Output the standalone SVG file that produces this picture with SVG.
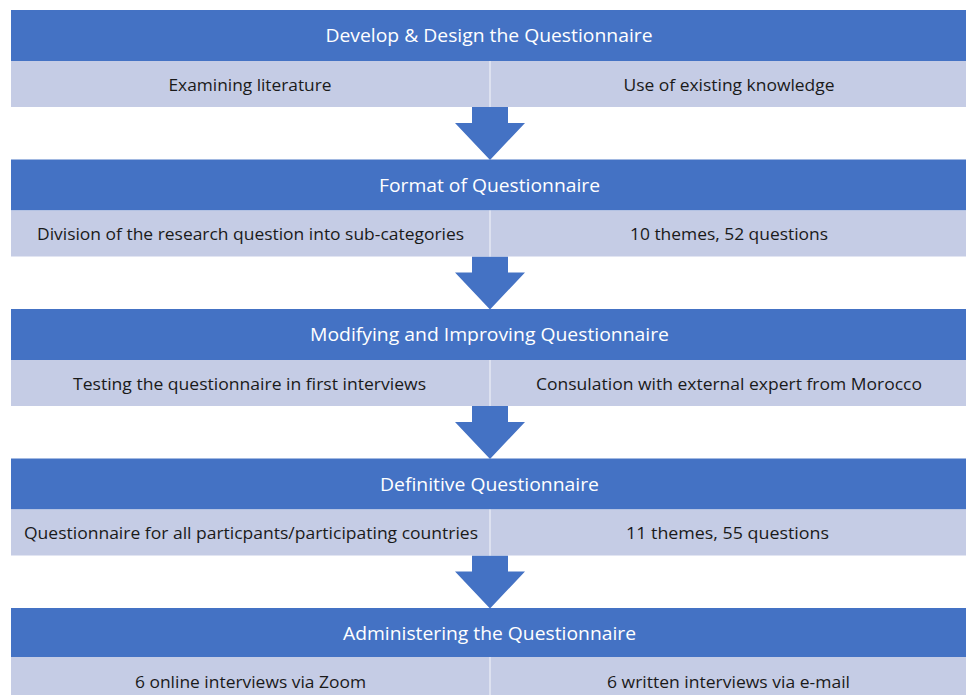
<svg xmlns="http://www.w3.org/2000/svg" width="966" height="695" viewBox="0 0 966 695">
  <style>
    .head { fill: #4472C4; }
    .cell { fill: #C5CCE5; }
    .sep { stroke: #E4E8F3; stroke-width: 1.5; }
    .arrow { fill: #4472C4; }
    .ht { font-family: "Open Sans", "Noto Sans", sans-serif; font-size: 19px; fill: #FFFFFF; text-anchor: middle; }
    .ct { font-family: "Open Sans", "Noto Sans", sans-serif; font-size: 17px; fill: #1A1A1A; text-anchor: middle; }
  </style>
  <rect width="966" height="695" fill="#FFFFFF"/>

  <!-- block arrows between stages -->
  <g id="connectors">
    <polygon class="arrow" points="472,107 508,107 508,123 525,123 490,160 455,123 472,123"/>
    <polygon class="arrow" points="472,256.5 508,256.5 508,272.5 525,272.5 490,309.5 455,272.5 472,272.5"/>
    <polygon class="arrow" points="472,406 508,406 508,422 525,422 490,459 455,422 472,422"/>
    <polygon class="arrow" points="472,555.5 508,555.5 508,571.5 525,571.5 490,608.5 455,571.5 472,571.5"/>
  </g>

  <g id="stage1" transform="translate(0,10)">
    <rect class="head" x="11" y="0" width="960" height="51"/>
    <rect class="cell" x="11" y="51" width="960" height="46"/>
    <line class="sep" x1="490" y1="51" x2="490" y2="97"/>
    <text class="ht" x="489" y="32" textLength="327" lengthAdjust="spacingAndGlyphs">Develop &amp; Design the Questionnaire</text>
    <text class="ct" x="250" y="80.5" textLength="163" lengthAdjust="spacingAndGlyphs">Examining literature</text>
    <text class="ct" x="729" y="80.5" textLength="211" lengthAdjust="spacingAndGlyphs">Use of existing knowledge</text>
  </g>

  <g id="stage2" transform="translate(0,159.5)">
    <rect class="head" x="11" y="0" width="960" height="51"/>
    <rect class="cell" x="11" y="51" width="960" height="46"/>
    <line class="sep" x1="490" y1="51" x2="490" y2="97"/>
    <text class="ht" x="489.5" y="32" textLength="221" lengthAdjust="spacingAndGlyphs">Format of Questionnaire</text>
    <text class="ct" x="250.5" y="80.5" textLength="427" lengthAdjust="spacingAndGlyphs">Division of the research question into sub-categories</text>
    <text class="ct" x="729" y="80.5" textLength="198" lengthAdjust="spacingAndGlyphs">10 themes, 52 questions</text>
  </g>

  <g id="stage3" transform="translate(0,309)">
    <rect class="head" x="11" y="0" width="960" height="51"/>
    <rect class="cell" x="11" y="51" width="960" height="46"/>
    <line class="sep" x1="490" y1="51" x2="490" y2="97"/>
    <text class="ht" x="489.5" y="32" textLength="359" lengthAdjust="spacingAndGlyphs">Modifying and Improving Questionnaire</text>
    <text class="ct" x="249.5" y="80.5" textLength="353" lengthAdjust="spacingAndGlyphs">Testing the questionnaire in first interviews</text>
    <text class="ct" x="729" y="80.5" textLength="386" lengthAdjust="spacingAndGlyphs">Consulation with external expert from Morocco</text>
  </g>

  <g id="stage4" transform="translate(0,458.5)">
    <rect class="head" x="11" y="0" width="960" height="51"/>
    <rect class="cell" x="11" y="51" width="960" height="46"/>
    <line class="sep" x1="490" y1="51" x2="490" y2="97"/>
    <text class="ht" x="489.5" y="32" textLength="219" lengthAdjust="spacingAndGlyphs">Definitive Questionnaire</text>
    <text class="ct" x="251" y="80.5" textLength="454" lengthAdjust="spacingAndGlyphs">Questionnaire for all particpants/participating countries</text>
    <text class="ct" x="727.5" y="80.5" textLength="203" lengthAdjust="spacingAndGlyphs">11 themes, 55 questions</text>
  </g>

  <g id="stage5" transform="translate(0,608)">
    <rect class="head" x="11" y="0" width="960" height="49"/>
    <rect class="cell" x="11" y="49" width="960" height="46"/>
    <line class="sep" x1="490" y1="49" x2="490" y2="95"/>
    <text class="ht" x="489.5" y="32" textLength="293" lengthAdjust="spacingAndGlyphs">Administering the Questionnaire</text>
    <text class="ct" x="250.5" y="79.5" textLength="231" lengthAdjust="spacingAndGlyphs">6 online interviews via Zoom</text>
    <text class="ct" x="728.5" y="79.5" textLength="243" lengthAdjust="spacingAndGlyphs">6 written interviews via e-mail</text>
  </g>
</svg>
